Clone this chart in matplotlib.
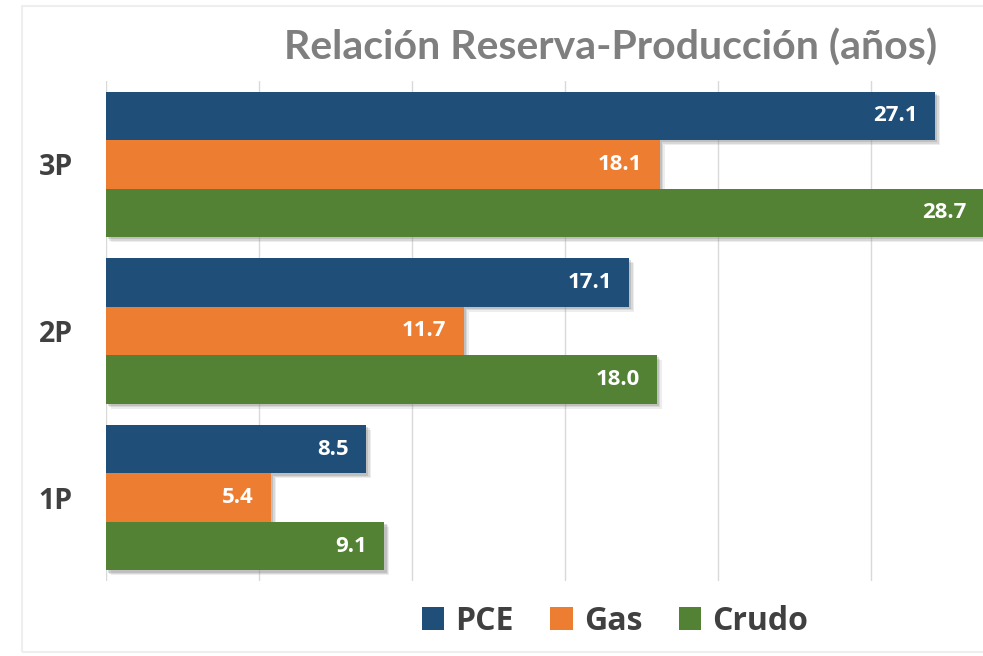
import matplotlib
matplotlib.use("Agg")
import matplotlib.pyplot as plt
import matplotlib.patheffects as pe
from matplotlib.patches import Rectangle, Patch
import numpy as np

categories = ["1P", "2P", "3P"]
series_names = ["PCE", "Gas", "Crudo"]
pce = [8.5, 17.1, 27.1]
gas = [5.4, 11.7, 18.1]
crudo = [9.1, 18.0, 28.7]
colors = ["#1F4E79", "#ED7D31", "#548235"]
title = "Relación Reserva-Producción (años)"

W, H = 983, 656
fig = plt.figure(figsize=(W / 100, H / 100), dpi=100)
fig.patch.set_facecolor("white")

# faint outer frame
fig.add_artist(Rectangle((22 / W, 1 - 652 / H), (W + 10 - 22) / W, (652 - 6) / H,
                         transform=fig.transFigure, fill=False,
                         edgecolor="#eeeeee", linewidth=1.5))

ax = fig.add_axes([106 / W, 1 - 581 / H, 918 / W, 500 / H])
ax.set_facecolor("none")

y = np.arange(len(categories))
bh = 0.291
offsets = [bh, 0.0, -bh]
shadow = [pe.SimplePatchShadow(offset=(3.5, -3.5), shadow_rgbFace="#888888", alpha=0.15),
          pe.SimplePatchShadow(offset=(2.5, -2.5), shadow_rgbFace="#888888", alpha=0.2),
          pe.SimplePatchShadow(offset=(1.5, -1.5), shadow_rgbFace="#777777", alpha=0.25),
          pe.Normal()]

for vals, off, col in zip([pce, gas, crudo], offsets, colors):
    bars = ax.barh(y + off, vals, height=bh, color=col, zorder=3)
    for b in bars:
        b.set_path_effects(shadow)
    for yy, v in zip(y + off, vals):
        ax.annotate(f"{v:.1f}", xy=(v, yy), xytext=(-12.5, 0), textcoords="offset points",
                    ha="right", va="center", color="white", fontsize=16,
                    fontweight="bold", family="Open Sans", zorder=5)

ax.set_xlim(0, 30)
ax.set_ylim(-0.5, 2.5)
ax.set_xticks(np.arange(0, 31, 5))
ax.set_xticklabels([])
ax.grid(axis="x", color="#d9d9d9", linewidth=1, zorder=0)
ax.set_yticks(y)
ax.set_yticklabels(categories, fontsize=20.5, fontweight="bold", family="Open Sans", color="#404040")
ax.tick_params(axis="both", length=0)
ax.tick_params(axis="y", pad=24)
for s in ax.spines.values():
    s.set_visible(False)

fig.text(611 / W, 1 - 48 / H, title, ha="center", va="center", fontsize=29.5,
         fontweight="bold", family="Lato", color="#7F7F7F")

handles = [Patch(facecolor=c, edgecolor="none") for c in colors]
leg = fig.legend(handles, series_names, loc="center", bbox_to_anchor=(615 / W, 1 - 621 / H),
                 ncol=3, frameon=False, handlelength=0.7, handleheight=0.7, handletextpad=0.35,
                 columnspacing=1.15, prop={"family": "Open Sans", "weight": "bold", "size": 23})
for t in leg.get_texts():
    t.set_color("#404040")

fig.savefig("out.png", dpi=100)
